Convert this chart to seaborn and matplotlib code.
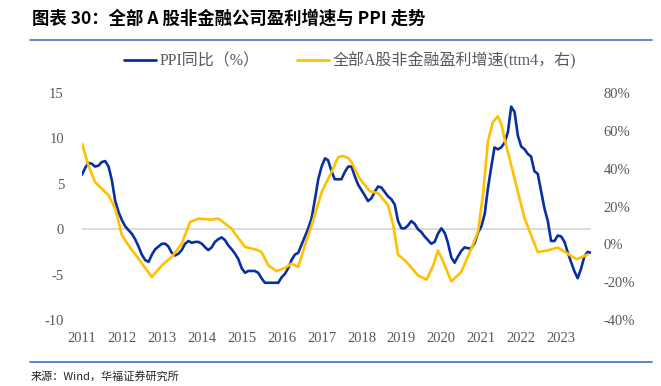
import matplotlib
matplotlib.use("Agg")
import matplotlib.pyplot as plt
from matplotlib.lines import Line2D
import numpy as np
import pandas as pd
import seaborn as sns

# ---------------- data ----------------
ppi_start = "2011-01-01"
ppi_values = [
    6.0, 6.8, 7.3, 7.2, 6.9, 7.0, 7.4, 7.5, 6.9, 5.4, 3.1, 1.9,          # 2011
    1.0, 0.3, -0.1, -0.5, -1.1, -1.9, -2.8, -3.4, -3.6, -2.8, -2.2, -1.9,  # 2012
    -1.6, -1.6, -1.9, -2.6, -2.9, -2.7, -2.3, -1.6, -1.3, -1.5, -1.4, -1.4,  # 2013
    -1.6, -2.0, -2.3, -2.0, -1.4, -1.1, -0.9, -1.2, -1.8, -2.2, -2.7, -3.3,  # 2014
    -4.3, -4.8, -4.6, -4.6, -4.6, -4.8, -5.4, -5.9, -5.9, -5.9, -5.9, -5.9,  # 2015
    -5.3, -4.9, -4.3, -3.4, -2.8, -2.6, -1.7, -0.8, 0.1, 1.2, 3.3, 5.5,      # 2016
    6.9, 7.8, 7.6, 6.4, 5.5, 5.5, 5.5, 6.3, 6.9, 6.9, 5.8, 4.9,              # 2017
    4.3, 3.7, 3.1, 3.4, 4.1, 4.7, 4.6, 4.1, 3.6, 3.3, 2.7, 0.9,              # 2018
    0.1, 0.1, 0.4, 0.9, 0.6, 0.0, -0.3, -0.8, -1.2, -1.6, -1.4, -0.5,        # 2019
    0.1, -0.4, -1.5, -3.1, -3.7, -3.0, -2.4, -2.0, -2.1, -2.1, -1.5, -0.4,   # 2020
    0.3, 1.7, 4.4, 6.8, 9.0, 8.8, 9.0, 9.5, 10.7, 13.5, 12.9, 10.3,          # 2021
    9.1, 8.8, 8.3, 8.0, 6.4, 6.1, 4.2, 2.3, 0.9, -1.3, -1.3, -0.7,           # 2022
    -0.8, -1.4, -2.5, -3.6, -4.6, -5.4, -4.4, -3.0, -2.5, -2.6,              # 2023
]

profit_dates = [
    "2011-01-01", "2011-02-28", "2011-05-01", "2011-09-01", "2011-11-01",
    "2012-01-01", "2012-03-01", "2012-06-01", "2012-10-01", "2013-01-01",
    "2013-04-01", "2013-07-01", "2013-09-16", "2013-12-01", "2014-04-01",
    "2014-06-01", "2014-10-01", "2014-11-01", "2015-02-01", "2015-05-16",
    "2015-07-01", "2015-09-01", "2015-11-16", "2016-02-01", "2016-04-01",
    "2016-06-01", "2016-08-01", "2016-10-01", "2017-01-01", "2017-04-01",
    "2017-06-01", "2017-07-16", "2017-09-01", "2017-10-01", "2017-12-16",
    "2018-03-19", "2018-06-01", "2018-09-01", "2018-10-19", "2018-12-01",
    "2019-02-01", "2019-03-01", "2019-06-01", "2019-08-19", "2019-10-19",
    "2019-12-01", "2020-01-19", "2020-04-01", "2020-07-01", "2020-10-01",
    "2020-12-01", "2021-01-19", "2021-03-01", "2021-04-16", "2021-06-01",
    "2021-07-07", "2021-08-01", "2021-11-01", "2022-02-01", "2022-06-01",
    "2022-09-01", "2022-12-01", "2023-03-01", "2023-05-22", "2023-09-01",
]
profit_values = [
    53.2, 41.8, 32.9, 25.9, 18.9,
    4.8, -0.5, -7.6, -17.3, -11.1,
    -6.7, 0.4, 11.8, 13.6, 13.1,
    13.6, 8.3, 5.6, -1.4, -2.8,
    -4.0, -11.1, -14.1, -12.5, -10.2,
    -12.0, -0.5, 10.0, 27.6, 38.2,
    46.1, 46.7, 45.6, 43.5, 34.7,
    28.0, 27.1, 20.6, 10.0, -5.5,
    -8.5, -10.2, -16.4, -18.7, -11.1,
    -3.2, -9.3, -19.6, -14.6, -2.3,
    6.5, 27.6, 54.1, 64.6, 67.7,
    62.9, 55.9, 34.7, 13.6, -4.1,
    -3.2, -1.7, -4.9, -7.9, -5.4,
]

year_labels = [str(y) for y in range(2011, 2024)]
left_ticks = [-10, -5, 0, 5, 10, 15]
right_ticks = [-40, -20, 0, 20, 40, 60, 80]

series_names = ["PPI同比（%）", "全部A股非金融盈利增速(ttm4，右)"]
title_text = "图表 30：全部 A 股非金融公司盈利增速与 PPI 走势"
source_text = "来源：Wind，华福证券研究所"

# ---------------- style ----------------
sns.set_style("white")
plt.rcParams["font.family"] = ["Liberation Serif", "Noto Sans CJK SC"]
plt.rcParams["axes.unicode_minus"] = False
plt.rcParams["lines.solid_joinstyle"] = "round"
plt.rcParams["lines.solid_capstyle"] = "round"

BLUE = "#0a2fa0"
GOLD = "#ffc000"
GRAY = "#595959"
RULE = "#4470c0"

W, H = 661, 386
fig = plt.figure(figsize=(W / 100, H / 100), dpi=100)

ax = fig.add_axes([82 / W, 1 - 320 / H, (591 - 82) / W, (320 - 93) / H])

ppi_df = pd.DataFrame({
    "date": pd.date_range(ppi_start, periods=len(ppi_values), freq="MS"),
    "value": ppi_values,
})
profit_df = pd.DataFrame({
    "date": pd.to_datetime(profit_dates),
    "value": profit_values,
})

ax.axhline(0, color="#d9d9d9", lw=1.3, zorder=0)
sns.lineplot(data=ppi_df, x="date", y="value", ax=ax, color=BLUE, lw=1.9, zorder=3)

ax2 = ax.twinx()
sns.lineplot(data=profit_df, x="date", y="value", ax=ax2, color=GOLD, lw=1.9, zorder=2)

ax.set_xlim(ppi_df["date"].min(), ppi_df["date"].max())
ax.set_ylim(-10, 15)
ax2.set_ylim(-40, 80)

ax.set_xticks([pd.Timestamp(f"{y}-01-01") for y in year_labels])
ax.set_xticklabels(year_labels)
ax.set_yticks(left_ticks)
ax.set_yticklabels([str(t) for t in left_ticks])
ax2.set_yticks(right_ticks)
ax2.set_yticklabels([f"{t}%" for t in right_ticks])

for a in (ax, ax2):
    a.set_xlabel("")
    a.set_ylabel("")
    for s in a.spines.values():
        s.set_visible(False)
    a.grid(False)
    a.patch.set_visible(False)

ax.tick_params(axis="x", length=0, pad=9, labelsize=10.5, labelcolor=GRAY)
ax.tick_params(axis="y", length=0, pad=13, labelsize=10.5, labelcolor=GRAY)
ax2.tick_params(axis="y", length=0, pad=9, labelsize=10.5, labelcolor=GRAY)

# legend
handles = [Line2D([0], [0], color=BLUE, lw=2.0), Line2D([0], [0], color=GOLD, lw=2.0)]
fig.legend(handles, series_names, loc="center", bbox_to_anchor=(350 / W, 1 - 61 / H),
           ncol=2, frameon=False, fontsize=11.5, labelcolor=GRAY,
           handlelength=2.0, handletextpad=0.25, columnspacing=2.3)

# title, rules, source
fig.text(32 / W, 1 - 19 / H, title_text, fontsize=12.5, fontweight="bold",
         family=["Noto Sans CJK SC"], color="black", va="center", ha="left")
fig.add_artist(Line2D([30 / W, 652 / W], [1 - 40 / H, 1 - 40 / H], color=RULE, lw=1.2))
fig.add_artist(Line2D([30 / W, 652 / W], [1 - 362 / H, 1 - 362 / H], color=RULE, lw=1.2))
fig.text(31 / W, 1 - 376 / H, source_text, fontsize=8, family=["Noto Sans CJK SC"],
         color="#222222", va="center", ha="left")

fig.savefig("out.png", dpi=100)
